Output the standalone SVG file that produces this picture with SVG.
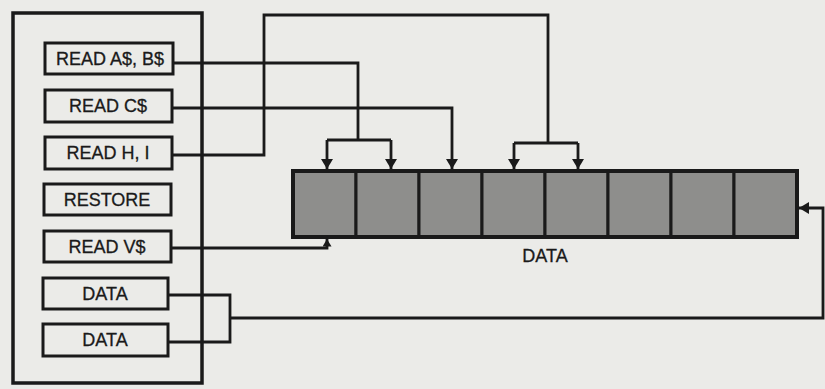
<svg xmlns="http://www.w3.org/2000/svg" width="825" height="389" viewBox="0 0 825 389">
<style>
.box{fill:#ebebe8;stroke:#1a1a1a;stroke-width:3}
.lbl{font-family:"Liberation Sans",Arial,sans-serif;font-size:18px;fill:#1a1a1a;text-anchor:middle;stroke:#1a1a1a;stroke-width:0.3}
.cell{fill:#8e8e8c;stroke:#1a1a1a;stroke-width:3}
.wire{fill:none;stroke:#1a1a1a;stroke-width:2.8}
</style>
<defs>
<marker id="ah" viewBox="0 0 10 12" refX="10" refY="6" markerWidth="14" markerHeight="12" markerUnits="userSpaceOnUse" orient="auto">
<path d="M0,0 L10,6 L0,12 z" fill="#1a1a1a"/>
</marker>
<marker id="ah2" viewBox="0 0 10 12" refX="10" refY="6" markerWidth="8" markerHeight="9" markerUnits="userSpaceOnUse" orient="auto">
<path d="M0,0 L10,6 L0,12 z" fill="#1a1a1a"/>
</marker>
</defs>
<rect width="825" height="389" fill="#ebebe8"/>
<g id="program">
<rect x="13" y="13" width="189" height="370" fill="none" stroke="#1a1a1a" stroke-width="3.5"/>
</g>
<g id="readab"><rect class="box" x="45" y="43" width="128" height="31"/><text class="lbl" x="110" y="65">READ A$, B$</text></g>
<g id="readc"><rect class="box" x="45" y="90" width="127" height="32"/><text class="lbl" x="108" y="112">READ C$</text></g>
<g id="readhi"><rect class="box" x="45" y="137" width="127" height="32"/><text class="lbl" x="108" y="159">READ H, I</text></g>
<g id="restore"><rect class="box" x="44" y="184" width="127" height="31"/><text class="lbl" x="107" y="206">RESTORE</text></g>
<g id="readv"><rect class="box" x="44" y="231" width="127" height="31"/><text class="lbl" x="107" y="253">READ V$</text></g>
<g id="data1"><rect class="box" x="43" y="278" width="125" height="31"/><text class="lbl" x="105" y="300">DATA</text></g>
<g id="data2"><rect class="box" x="43" y="324" width="125" height="32"/><text class="lbl" x="105" y="346">DATA</text></g>
<g id="datalist">
<rect class="cell" x="293" y="171" width="63" height="66"/>
<rect class="cell" x="356" y="171" width="63" height="66"/>
<rect class="cell" x="419" y="171" width="63" height="66"/>
<rect class="cell" x="482" y="171" width="63" height="66"/>
<rect class="cell" x="545" y="171" width="63" height="66"/>
<rect class="cell" x="608" y="171" width="63" height="66"/>
<rect class="cell" x="671" y="171" width="63" height="66"/>
<rect class="cell" x="734" y="171" width="63" height="66"/>
<rect x="293" y="171" width="504" height="66" fill="none" stroke="#1a1a1a" stroke-width="4"/>
<text class="lbl" x="545" y="262">DATA</text>
</g>
<g id="connectors">
<path class="wire" d="M173,63 H358 V140"/>
<path class="wire" d="M327,140 H391"/>
<path class="wire" d="M327,140 V169" marker-end="url(#ah)"/>
<path class="wire" d="M391,140 V169" marker-end="url(#ah)"/>
<path class="wire" d="M172,108 H452 V169" marker-end="url(#ah)"/>
<path class="wire" d="M172,155 H264 V15 H548 V143"/>
<path class="wire" d="M514,143 H578"/>
<path class="wire" d="M514,143 V169" marker-end="url(#ah)"/>
<path class="wire" d="M578,143 V169" marker-end="url(#ah)"/>
<path class="wire" d="M171,248 H327 V239" marker-end="url(#ah2)"/>
<path class="wire" d="M168,295 H230 V342 H168"/>
<path class="wire" d="M230,318 H823 V208 H799" marker-end="url(#ah)"/>
</g>
</svg>
